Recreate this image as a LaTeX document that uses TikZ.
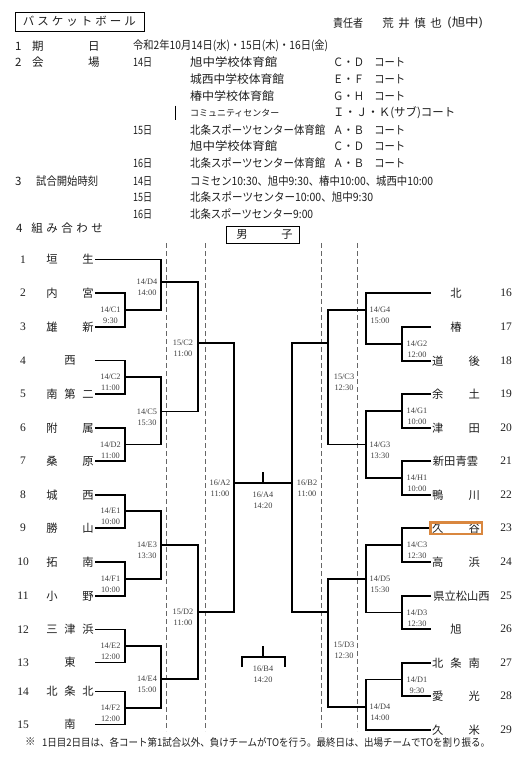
\documentclass[tikz,border=0pt]{standalone}
\usepackage{fontspec}
\usepackage{graphicx}
\setmainfont{Liberation Serif}
\newfontfamily\jp{Noto Sans CJK JP}
\definecolor{txt}{HTML}{1E1E1E}
\definecolor{hl}{HTML}{D9873F}
\newcommand\mycb[2]{\makebox[#1]{#2}}
\newcommand\myfit[2]{\resizebox{#1}{\height}{#2}}
\newcommand\myltn[3]{\makebox[18pt]{#1}\makebox[18pt]{#2}\makebox[18pt]{#3}}
\newcommand\myrtn[3]{\makebox[18.3pt]{#1}\makebox[18.3pt]{#2}\makebox[18.3pt]{#3}}
\tikzset{
  jt/.style={font=\jp\fontsize{11.5}{13}\selectfont, inner sep=0pt, anchor=west, text=txt},
  tname/.style={font=\jp\fontsize{11.3}{13}\selectfont, inner sep=0pt, text=txt},
  tnum/.style={font=\fontsize{11.5}{13}\selectfont, inner sep=0pt, text=txt},
  mlab/.style={font=\fontsize{8.3}{10}\selectfont, inner sep=0pt, text=txt!85},
  brk/.style={line width=1.1pt, draw=black},
  dsh/.style={line width=0.9pt, draw=black!60, dash pattern=on 5pt off 3pt},
}
\newcommand\lteam[5]{%
  \node[tnum] (n#1) at (23,#2) {#1};
  \node[tname] (t#1) at (70,#2) {\myltn{#3}{#4}{#5}};
  \coordinate (l#1) at (95,#2);}
\newcommand\rteam[5]{%
  \node[tnum] (n#1) at (506,#2) {#1};
  \node[tname] (t#1) at (456,#2) {\myrtn{#3}{#4}{#5}};
  \coordinate (r#1) at (431,#2);}
\newcommand\rteamx[4]{%
  \node[tnum] (n#1) at (506,#2) {#1};
  \node[tname] (t#1) at (#4,#2) {#3};
  \coordinate (r#1) at (431,#2);}
\newcommand\mlabel[5]{%
  \node[mlab] (lab#1) at (#2,#3) {#4};
  \node[mlab] (lab#1t) at (#2,#3+11) {#5};}
\begin{document}
\begin{tikzpicture}[x=1pt,y=-1pt]
\useasboundingbox[fill=white] (0,0) rectangle (530,761);

% ---------- header ----------
\node[draw=black, line width=0.9pt, minimum width=129pt, minimum height=19pt, inner sep=0pt,
      font=\jp\fontsize{11.5}{13}\selectfont, text=txt] (title) at (79.5,21.5)
  {\mycb{14.5pt}{バ}\mycb{14.5pt}{ス}\mycb{14.5pt}{ケ}\mycb{14.5pt}{ッ}\mycb{14.5pt}{ト}\mycb{14.5pt}{ボ}\mycb{14.5pt}{ー}\mycb{14.5pt}{ル}};
\node[jt] (resp) at (333,23) {\myfit{30pt}{責任者}};
\node[jt] (respname) at (380,23) {\mycb{16pt}{荒}\mycb{16pt}{井}\mycb{16pt}{慎}\mycb{16pt}{也}};
\node[jt] (respschool) at (447,23) {\myfit{36pt}{(旭中)}};

% row 1
\node[jt] (h1n) at (15,46) {1};
\node[jt] (h1a) at (32,46) {期};
\node[jt] (h1b) at (88,46) {日};
\node[jt] (h1c) at (133,46) {\myfit{195pt}{令和2年10月14日(水)・15日(木)・16日(金)}};
% row 2
\node[jt] (h2n) at (15,62.5) {2};
\node[jt] (h2a) at (32,62.5) {会};
\node[jt] (h2b) at (88,62.5) {場};
\node[jt] (d14) at (133,62.5) {\myfit{19pt}{14日}};
\node[jt] (v1) at (190,62.5) {\myfit{87pt}{旭中学校体育館}};
\node[jt] (c1) at (333,62.5) {\myfit{72pt}{Ｃ・Ｄ　コート}};
\node[jt] (v2) at (190,79) {\myfit{94pt}{城西中学校体育館}};
\node[jt] (c2) at (333,79) {\myfit{72pt}{Ｅ・Ｆ　コート}};
\node[jt] (v3) at (190,96) {\myfit{84pt}{椿中学校体育館}};
\node[jt] (c3) at (333,96) {\myfit{72pt}{Ｇ・Ｈ　コート}};
\draw[line width=0.9pt] (175,105.5) coordinate (bar1) -- (175,120) coordinate (bar2);
\node[jt, font=\jp\fontsize{9}{11}\selectfont] (v4) at (190,113) {\myfit{89pt}{コミュニティセンター}};
\node[jt] (c4) at (333,113) {\myfit{122pt}{Ｉ・Ｊ・Ｋ(サブ)コート}};
\node[jt] (d15) at (133,130) {\myfit{19pt}{15日}};
\node[jt] (v5) at (190,130) {\myfit{135pt}{北条スポーツセンター体育館}};
\node[jt] (c5) at (333,130) {\myfit{72pt}{Ａ・Ｂ　コート}};
\node[jt] (v6) at (190,146.5) {\myfit{87pt}{旭中学校体育館}};
\node[jt] (c6) at (333,146.5) {\myfit{72pt}{Ｃ・Ｄ　コート}};
\node[jt] (d16) at (133,163) {\myfit{19pt}{16日}};
\node[jt] (v7) at (190,163) {\myfit{135pt}{北条スポーツセンター体育館}};
\node[jt] (c7) at (333,163) {\myfit{72pt}{Ａ・Ｂ　コート}};
% row 3
\node[jt] (h3n) at (15,181) {3};
\node[jt] (h3a) at (36,181) {\myfit{62pt}{試合開始時刻}};
\node[jt] (e14) at (133,181) {\myfit{19pt}{14日}};
\node[jt] (s1) at (190,181) {\myfit{243pt}{コミセン10:30、旭中9:30、椿中10:00、城西中10:00}};
\node[jt] (e15) at (133,197.5) {\myfit{19pt}{15日}};
\node[jt] (s2) at (190,197.5) {\myfit{183pt}{北条スポーツセンター10:00、旭中9:30}};
\node[jt] (e16) at (133,214) {\myfit{19pt}{16日}};
\node[jt] (s3) at (190,214) {\myfit{123pt}{北条スポーツセンター9:00}};
% row 4
\node[jt] (h4n) at (16,228) {4};
\node[jt] (h4a) at (29.5,228) {\mycb{15pt}{組}\mycb{15pt}{み}\mycb{15pt}{合}\mycb{15pt}{わ}\mycb{15pt}{せ}};
\node[draw=black, line width=0.9pt, minimum width=73pt, minimum height=17pt, inner sep=0pt] (boys) at (262.5,234.5) {};
\node[tname] (boys1) at (242,235) {男};
\node[tname] (boys2) at (287,235) {子};

% ---------- dashed guides ----------
\foreach \xx/\nm in {166/da,205/db,321/dc,357/dd}{
  \draw[dsh] (\xx,243) coordinate (\nm1) -- (\xx,731) coordinate (\nm2);
}

% ---------- teams ----------
\lteam{1}{259.5}{垣}{}{生}
\lteam{2}{293}{内}{}{宮}
\lteam{3}{327}{雄}{}{新}
\lteam{4}{360.5}{}{西}{}
\lteam{5}{394}{南}{第}{二}
\lteam{6}{428}{附}{}{属}
\lteam{7}{461}{桑}{}{原}
\lteam{8}{495}{城}{}{西}
\lteam{9}{528}{勝}{}{山}
\lteam{10}{562}{拓}{}{南}
\lteam{11}{596}{小}{}{野}
\lteam{12}{629.5}{三}{津}{浜}
\lteam{13}{662.5}{}{東}{}
\lteam{14}{691.5}{北}{条}{北}
\lteam{15}{724.5}{}{南}{}

\rteam{16}{293}{}{北}{}
\rteam{17}{327}{}{椿}{}
\rteam{18}{361}{道}{}{後}
\rteam{19}{394}{余}{}{土}
\rteam{20}{428}{津}{}{田}
\rteamx{21}{461}{新田青雲}{455.5}
\rteam{22}{495}{鴨}{}{川}
\rteam{23}{528}{久}{}{谷}
\rteam{24}{562}{高}{}{浜}
\rteamx{25}{596}{県立松山西}{461.5}
\rteam{26}{629}{}{旭}{}
\rteam{27}{663}{北}{条}{南}
\rteam{28}{696}{愛}{}{光}
\rteam{29}{730}{久}{}{米}

% ---------- match points ----------
\coordinate (C1) at (125,310);
\coordinate (D4L) at (161,282);
\coordinate (C2L) at (125,377);
\coordinate (D2L) at (125,444.5);
\coordinate (C5) at (161,411.5);
\coordinate (QC2) at (198,343);
\coordinate (E1) at (125,511);
\coordinate (F1) at (125,579);
\coordinate (E3) at (161,545);
\coordinate (E2) at (125,646);
\coordinate (F2) at (125,708);
\coordinate (E4) at (161,679);
\coordinate (QD2) at (198,612);
\coordinate (A2) at (234,483);

\coordinate (G2) at (402,344);
\coordinate (G4) at (366,310);
\coordinate (G1) at (402,411);
\coordinate (H1) at (402,478);
\coordinate (G3) at (366,444.5);
\coordinate (QC3) at (328,343);
\coordinate (C3R) at (402,545);
\coordinate (D3R) at (402,612.5);
\coordinate (D5) at (366,579);
\coordinate (D1) at (402,679.5);
\coordinate (D4R) at (366,707);
\coordinate (QD3) at (328,612);
\coordinate (B2) at (292,483);
\coordinate (A4) at (263,483);
\coordinate (B4) at (263,657);
\coordinate (B4L) at (242,657);
\coordinate (B4R) at (285,657);

% ---------- brackets ----------
\draw[brk] (l2) -| (C1) |- (l3);
\draw[brk] (l1) -| (D4L) |- (C1);
\draw[brk] (l4) -| (C2L) |- (l5);
\draw[brk] (l6) -| (D2L) |- (l7);
\draw[brk] (C2L) -| (C5) |- (D2L);
\draw[brk] (D4L) -| (QC2) |- (C5);
\draw[brk] (l8) -| (E1) |- (l9);
\draw[brk] (l10) -| (F1) |- (l11);
\draw[brk] (E1) -| (E3) |- (F1);
\draw[brk] (l12) -| (E2) |- (l13);
\draw[brk] (l14) -| (F2) |- (l15);
\draw[brk] (E2) -| (E4) |- (F2);
\draw[brk] (E3) -| (QD2) |- (E4);
\draw[brk] (QC2) -| (A2) |- (QD2);

\draw[brk] (r17) -| (G2) |- (r18);
\draw[brk] (r16) -| (G4) |- (G2);
\draw[brk] (r19) -| (G1) |- (r20);
\draw[brk] (r21) -| (H1) |- (r22);
\draw[brk] (G1) -| (G3) |- (H1);
\draw[brk] (G4) -| (QC3) |- (G3);
\draw[brk] (r23) -| (C3R) |- (r24);
\draw[brk] (r25) -| (D3R) |- (r26);
\draw[brk] (C3R) -| (D5) |- (D3R);
\draw[brk] (r27) -| (D1) |- (r28);
\draw[brk] (D1) -| (D4R) |- (r29);
\draw[brk] (D5) -| (QD3) |- (D4R);
\draw[brk] (QC3) -| (B2) |- (QD3);

\draw[brk] (A2) -- (B2);
\draw[brk] (A4) -- ++(0,-11);
\draw[brk] (B4L) ++(0,10) -- (B4L) -- (B4R) -- ++(0,10);
\draw[brk] (B4) -- ++(0,-11);

% ---------- match labels ----------
\mlabel{C1}{110.5}{310}{14/C1}{9:30}
\mlabel{D4L}{147}{282}{14/D4}{14:00}
\mlabel{C2L}{110.5}{377}{14/C2}{11:00}
\mlabel{D2L}{110.5}{444.5}{14/D2}{11:00}
\mlabel{C5}{147}{411.5}{14/C5}{15:30}
\mlabel{QC2}{183}{343}{15/C2}{11:00}
\mlabel{E1}{110.5}{511}{14/E1}{10:00}
\mlabel{F1}{110.5}{579}{14/F1}{10:00}
\mlabel{E3}{147}{545}{14/E3}{13:30}
\mlabel{E2}{110.5}{646}{14/E2}{12:00}
\mlabel{F2}{110.5}{708}{14/F2}{12:00}
\mlabel{E4}{147}{679}{14/E4}{15:00}
\mlabel{QD2}{183}{612}{15/D2}{11:00}
\mlabel{A2}{220}{483}{16/A2}{11:00}
\mlabel{A4}{263}{495}{16/A4}{14:20}
\mlabel{B4}{263}{669}{16/B4}{14:20}
\mlabel{B2}{307}{483}{16/B2}{11:00}
\mlabel{G4}{380}{310}{14/G4}{15:00}
\mlabel{G2}{417}{344}{14/G2}{12:00}
\mlabel{G1}{417}{411}{14/G1}{10:00}
\mlabel{H1}{417}{478}{14/H1}{10:00}
\mlabel{G3}{380}{444.5}{14/G3}{13:30}
\mlabel{QC3}{344}{377}{15/C3}{12:30}
\mlabel{C3R}{417}{545}{14/C3}{12:30}
\mlabel{D3R}{417}{612.5}{14/D3}{12:30}
\mlabel{D5}{380}{579}{14/D5}{15:30}
\mlabel{D1}{417}{679.5}{14/D1}{9:30}
\mlabel{D4R}{380}{707}{14/D4}{14:00}
\mlabel{QD3}{344}{645}{15/D3}{12:30}

% highlight
\draw[line width=2.6pt, draw=hl] (430.5,522.5) coordinate (hl1) rectangle (482,534) coordinate (hl2);

% ---------- footnote ----------
\node[jt, font=\jp\fontsize{10.5}{12}\selectfont] (fnmark) at (25,742) {※};
\node[jt, font=\jp\fontsize{10.5}{12}\selectfont] (fn) at (42,742)
  {\myfit{448pt}{1日目2日目は、各コート第1試合以外、負けチームがTOを行う。最終日は、出場チームでTOを割り振る。}};
\end{tikzpicture}
\end{document}
